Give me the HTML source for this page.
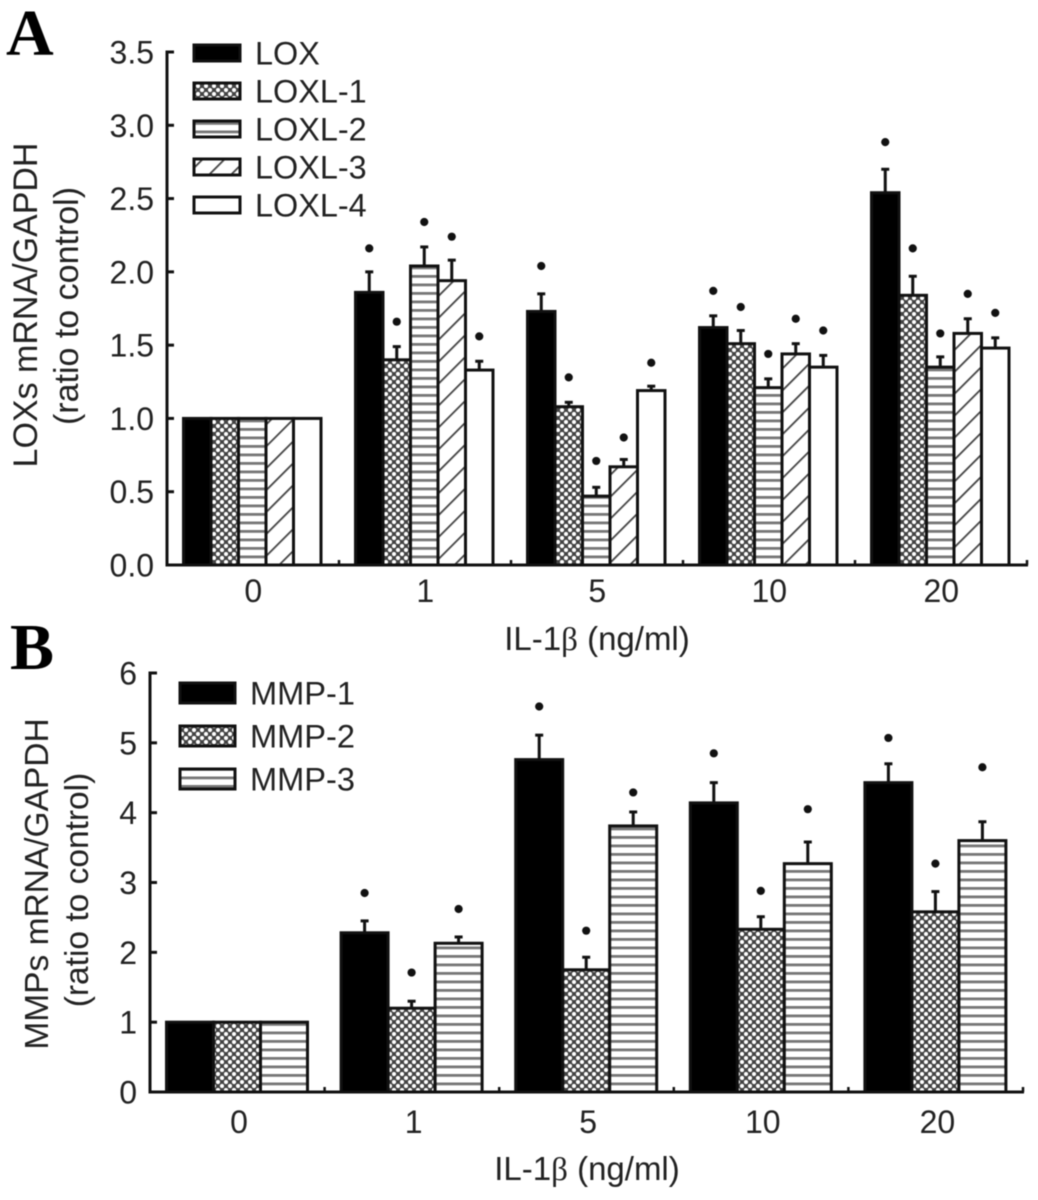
<!DOCTYPE html>
<html lang="en">
<head>
<meta charset="utf-8">
<title>LOXs and MMPs mRNA bar charts</title>
<style>
html,body{margin:0;padding:0;background:#fff;width:1038px;height:1200px;overflow:hidden}
svg{display:block;filter:blur(.55px)}
text{font-family:"Liberation Sans",Arial,sans-serif;fill:#222}
</style>
</head>
<body>
<svg id="figure" xmlns="http://www.w3.org/2000/svg" width="1038" height="1200" viewBox="0 0 1038 1200">
<defs>
<pattern id="fill-solid" width="4" height="4" patternUnits="userSpaceOnUse"><rect width="4" height="4" fill="#000"/></pattern>
<pattern id="fill-dots" width="8" height="8" patternUnits="userSpaceOnUse"><rect width="8" height="8" fill="#444"/><circle cx="2" cy="2" r="2.1" fill="#fff"/><circle cx="6" cy="6" r="2.1" fill="#fff"/></pattern>
<pattern id="fill-stripes" width="8.5" height="8.5" patternUnits="userSpaceOnUse"><rect width="8.5" height="8.5" fill="#fff"/><rect y="3" width="8.5" height="2.8" fill="#777"/></pattern>
<pattern id="fill-hatch" width="15.5" height="15.5" patternUnits="userSpaceOnUse" patternTransform="rotate(-45)"><rect width="15.5" height="15.5" fill="#fff"/><rect y="7" width="15.5" height="1.8" fill="#444"/></pattern>
<pattern id="fill-empty" width="4" height="4" patternUnits="userSpaceOnUse"><rect width="4" height="4" fill="#fff"/></pattern>
</defs>
<g id="panel-a"></g>
<g id="panel-b"></g>
</svg>
<script>
// ---------- Shared ----------
const doseCategories = ['0', '1', '5', '10', '20'];

// ---------- Panel A values ----------
const loxSeriesNames = ['LOX', 'LOXL-1', 'LOXL-2', 'LOXL-3', 'LOXL-4'];
const loxTicks = ['0.0', '0.5', '1.0', '1.5', '2.0', '2.5', '3.0', '3.5'];
const loxValues = [1, 1.86, 1.73, 1.62, 2.54];
const loxl1Values = [1, 1.40, 1.08, 1.51, 1.84];
const loxl2Values = [1, 2.04, 0.47, 1.21, 1.35];
const loxl3Values = [1, 1.94, 0.67, 1.44, 1.58];
const loxl4Values = [1, 1.33, 1.19, 1.35, 1.48];
const loxErrors = [0, 0.14, 0.12, 0.08, 0.16];
const loxl1Errors = [0, 0.09, 0.03, 0.09, 0.13];
const loxl2Errors = [0, 0.13, 0.06, 0.06, 0.07];
const loxl3Errors = [0, 0.14, 0.05, 0.07, 0.10];
const loxl4Errors = [0, 0.06, 0.03, 0.08, 0.07];
const loxStars = [null, 2.16, 2.04, 1.87, 2.885];
const loxl1Stars = [null, 1.66, 1.28, 1.76, 2.16];
const loxl2Stars = [null, 2.34, 0.71, 1.44, 1.58];
const loxl3Stars = [null, 2.24, 0.87, 1.68, 1.85];
const loxl4Stars = [null, 1.56, 1.38, 1.60, 1.72];

// ---------- Panel B values ----------
const mmpSeriesNames = ['MMP-1', 'MMP-2', 'MMP-3'];
const mmpTicks = ['0', '1', '2', '3', '4', '5', '6'];
const mmp1Values = [1, 2.28, 4.76, 4.14, 4.43];
const mmp2Values = [1, 1.20, 1.75, 2.33, 2.58];
const mmp3Values = [1, 2.13, 3.81, 3.27, 3.60];
const mmp1Errors = [0, 0.17, 0.35, 0.29, 0.27];
const mmp2Errors = [0, 0.10, 0.18, 0.18, 0.29];
const mmp3Errors = [0, 0.09, 0.20, 0.31, 0.27];
const mmp1Stars = [null, 2.85, 5.52, 4.85, 5.07];
const mmp2Stars = [null, 1.71, 2.31, 2.88, 3.27];
const mmp3Stars = [null, 2.62, 4.29, 4.05, 4.65];

const NS = 'http://www.w3.org/2000/svg';
function mk(parent, tag, attrs, text) {
  const el = document.createElementNS(NS, tag);
  for (const k in attrs) el.setAttribute(k, attrs[k]);
  if (text !== undefined) el.textContent = text;
  parent.appendChild(el);
  return el;
}

function drawPanel(cfg) {
  const root = document.getElementById(cfg.id);
  const maxV = parseFloat(cfg.ticks[cfg.ticks.length - 1]);
  const yOf = v => cfg.y0 - (v / maxV) * (cfg.y0 - cfg.yTop);
  const groupStep = (cfg.xRight - cfg.xLeft) / cfg.categories.length;
  const barW = cfg.barW;
  const barX = (g, s) => cfg.xLeft + cfg.groupPad + g * groupStep + s * barW;

  // bars
  cfg.series.forEach((ser, s) => {
    ser.values.forEach((v, g) => {
      const x = barX(g, s);
      const top = yOf(v);
      if (ser.errors[g] > 0) {
        const errTop = yOf(v + ser.errors[g]);
        const stem = mk(root, 'line', {x1: x + barW / 2, x2: x + barW / 2, y1: top, y2: errTop, stroke: '#111', 'stroke-width': 3});
        
        
        const cap = mk(root, 'line', {x1: x + barW / 2 - 4, x2: x + barW / 2 + 4, y1: errTop, y2: errTop, stroke: '#111', 'stroke-width': 3});
        
        
      }
      const bar = mk(root, 'rect', {x: x, y: top, width: barW, height: cfg.y0 - top, fill: 'url(#' + ser.fill + ')', stroke: '#111', 'stroke-width': 3});
      
      
      if (ser.stars[g] !== null) {
        const star = mk(root, 'circle', {cx: x + barW / 2, cy: yOf(ser.stars[g]), r: 4.1, fill: '#111'});
        
        
      }
    });
  });

  // axes
  const yAxis = mk(root, 'line', {x1: cfg.xLeft, x2: cfg.xLeft, y1: cfg.yTop - 1.5, y2: cfg.y0 + 1.5, stroke: '#111', 'stroke-width': 3});
  
  
  const xAxis = mk(root, 'line', {x1: cfg.xLeft - 1.5, x2: cfg.xRight + 1, y1: cfg.y0, y2: cfg.y0, stroke: '#111', 'stroke-width': 3});
  
  

  cfg.ticks.forEach(t => {
    const y = yOf(parseFloat(t));
    const tick = mk(root, 'line', {x1: cfg.xLeft, x2: cfg.xLeft + 7, y1: y, y2: y, stroke: '#111', 'stroke-width': 3});
    
    
    const lab = mk(root, 'text', {x: cfg.yLabelX, y: y + 11.5, 'text-anchor': 'end', 'font-size': cfg.fs}, t);
    
    
  });

  for (let i = 1; i <= cfg.categories.length; i++) {
    const x = cfg.xLeft + i * groupStep;
    const tick = mk(root, 'line', {x1: x, x2: x, y1: cfg.y0, y2: cfg.y0 - 5, stroke: '#111', 'stroke-width': 2.5});
    
    
  }

  cfg.categories.forEach((c, g) => {
    const cx = barX(g, 0) + barW * cfg.series.length / 2 + cfg.xLabelShift;
    const lab = mk(root, 'text', {x: cx, y: cfg.xLabelY, 'text-anchor': 'middle', 'font-size': cfg.fs}, c);
    
    
  });

  // legend
  cfg.series.forEach((ser, s) => {
    const cy = cfg.legY + s * cfg.legStep;
    const sw = mk(root, 'rect', {x: cfg.legX, y: cy - cfg.legH / 2, width: cfg.legW, height: cfg.legH, fill: 'url(#' + ser.fill + ')', stroke: '#111', 'stroke-width': 3});
    
    
    const tx = mk(root, 'text', {x: cfg.legTextX, y: cy + 11.5, 'font-size': cfg.legFs}, ser.name);
    
    
  });

  // titles
  const t1 = mk(root, 'text', {transform: 'translate(' + cfg.title1X + ' ' + cfg.title1Y + ') rotate(-90)', 'text-anchor': 'middle', 'font-size': cfg.titleFs}, cfg.title1);
  
  
  const t2 = mk(root, 'text', {transform: 'translate(' + cfg.title2X + ' ' + cfg.title2Y + ') rotate(-90)', 'text-anchor': 'middle', 'font-size': cfg.titleFs}, '(ratio to control)');
  
  

  const xt = mk(root, 'text', {x: cfg.xTitleX, y: cfg.xTitleY, 'text-anchor': 'middle', 'font-size': cfg.xTitleFs});
  
  
  mk(xt, 'tspan', {}, 'IL-1');
  mk(xt, 'tspan', {style: 'font-family:"Liberation Serif",serif'}, 'β');
  mk(xt, 'tspan', {}, ' (ng/ml)');

  const letter = mk(root, 'text', {x: cfg.letterX, y: cfg.letterY, 'font-size': 66, 'font-weight': 'bold', style: 'font-family:"Liberation Serif",serif;fill:#000'}, cfg.letter);
  
  
}

drawPanel({
  id: 'panel-a', letter: 'A', letterX: 6, letterY: 55,
  categories: doseCategories, ticks: loxTicks,
  xLeft: 167, xRight: 1027, y0: 565, yTop: 52, groupPad: 16.5, barW: 27.5,
  yLabelX: 154, xLabelY: 602, xLabelShift: 1, fs: 32, legFs: 32.4, titleFs: 34, xTitleFs: 33,
  title1: 'LOXs mRNA/GAPDH', title1X: 37, title1Y: 305, title2X: 78, title2Y: 306,
  xTitleX: 597, xTitleY: 650,
  legX: 194, legW: 46, legH: 16, legY: 53, legStep: 38, legTextX: 255,
  series: [
    {name: loxSeriesNames[0], fill: 'fill-solid', values: loxValues, errors: loxErrors, stars: loxStars},
    {name: loxSeriesNames[1], fill: 'fill-dots', values: loxl1Values, errors: loxl1Errors, stars: loxl1Stars},
    {name: loxSeriesNames[2], fill: 'fill-stripes', values: loxl2Values, errors: loxl2Errors, stars: loxl2Stars},
    {name: loxSeriesNames[3], fill: 'fill-hatch', values: loxl3Values, errors: loxl3Errors, stars: loxl3Stars},
    {name: loxSeriesNames[4], fill: 'fill-empty', values: loxl4Values, errors: loxl4Errors, stars: loxl4Stars}
  ]
});

drawPanel({
  id: 'panel-b', letter: 'B', letterX: 10, letterY: 669,
  categories: doseCategories, ticks: mmpTicks,
  xLeft: 150, xRight: 1023, y0: 1092, yTop: 673, groupPad: 16.5, barW: 47,
  yLabelX: 137, xLabelY: 1133, xLabelShift: 2, fs: 32, legFs: 32.6, titleFs: 33.5, xTitleFs: 33,
  title1: 'MMPs mRNA/GAPDH', title1X: 48, title1Y: 884, title2X: 88, title2Y: 890,
  xTitleX: 587, xTitleY: 1180,
  legX: 180, legW: 55, legH: 20, legY: 693, legStep: 43, legTextX: 250,
  series: [
    {name: mmpSeriesNames[0], fill: 'fill-solid', values: mmp1Values, errors: mmp1Errors, stars: mmp1Stars},
    {name: mmpSeriesNames[1], fill: 'fill-dots', values: mmp2Values, errors: mmp2Errors, stars: mmp2Stars},
    {name: mmpSeriesNames[2], fill: 'fill-stripes', values: mmp3Values, errors: mmp3Errors, stars: mmp3Stars}
  ]
});
</script>
</body>
</html>
